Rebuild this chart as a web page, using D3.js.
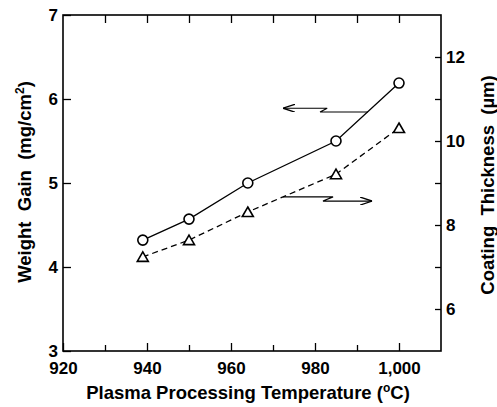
<!DOCTYPE html>
<html>
<head>
<meta charset="utf-8">
<script src="https://cdn.jsdelivr.net/npm/d3@7"></script>
<style>
  body { margin: 0; background: #fff; }
  svg { display: block; font-family: "Liberation Sans", Arial, sans-serif; }
  .tick text { font-size: 17px; font-weight: bold; fill: #000; }
  .title { font-size: 18.5px; font-weight: bold; fill: #000; }
</style>
</head>
<body>
<svg id="chart"></svg>
<script>
const width = 497;
const height = 407;

// temperatures (°C)
const temps = [939, 950, 964, 985, 1000];
// weight gain, mg/cm2 (left axis, circles)
const weightGain = [4.32, 4.57, 5.0, 5.5, 6.19];
// coating thickness, µm (right axis, triangles)
const thickness = [7.24, 7.64, 8.31, 9.21, 10.31];

const xTickLabels = [920, 940, 960, 980, 1000];
const xMinorTicks = [930, 950, 970, 990];
const leftTicks = [3, 4, 5, 6, 7];
const rightTickLabels = [6, 8, 10, 12];
const rightMinorTicks = [7, 9, 11];

// arrow annotations in data units: [temp, value]
const arrowLeft = [[992.6, 5.845], [981.2, 5.845], [982.9, 5.89], [972.4, 5.89]];
const arrowRight = [[972.4, 8.67], [984.3, 8.67], [981.9, 8.57], [993.6, 8.57]];

const m = { top: 15, right: 56, bottom: 56, left: 63 };
const x = d3.scaleLinear().domain([920, 1010]).range([m.left, width - m.right]);
const yL = d3.scaleLinear().domain([3, 7]).range([height - m.bottom, m.top]);
const yR = d3.scaleLinear().domain([5, 13]).range([height - m.bottom, m.top]);

const svg = d3.select('#chart')
    .attr('width', width)
    .attr('height', height);

const defs = svg.append('defs');
defs.append('marker')
    .attr('id', 'head')
    .attr('viewBox', '0 0 12 8')
    .attr('refX', 12).attr('refY', 4)
    .attr('markerWidth', 12).attr('markerHeight', 8)
    .attr('markerUnits', 'userSpaceOnUse')
    .attr('orient', 'auto')
    .append('path')
    .attr('d', 'M0,0 L12,4 L0,8')
    .attr('fill', 'none')
    .attr('stroke', '#000')
    .attr('stroke-width', 1.3);

const bottom = height - m.bottom;
const right = width - m.right;

// bottom axis
svg.append('g')
    .attr('transform', `translate(0,${bottom})`)
    .call(d3.axisBottom(x).tickValues(xTickLabels).tickSizeInner(-8).tickSizeOuter(0).tickPadding(11));
svg.append('g')
    .attr('transform', `translate(0,${bottom})`)
    .call(d3.axisBottom(x).tickValues(xMinorTicks).tickSizeInner(-6).tickSizeOuter(0).tickFormat(''));
// top axis
svg.append('g')
    .attr('transform', `translate(0,${m.top})`)
    .call(d3.axisTop(x).tickValues(xTickLabels.concat(xMinorTicks).filter(d => d > 920)).tickSizeInner(-8).tickSizeOuter(0).tickFormat(''));
// left axis
svg.append('g')
    .attr('transform', `translate(${m.left},0)`)
    .call(d3.axisLeft(yL).tickValues(leftTicks).tickFormat(d3.format('d')).tickSizeInner(-8).tickSizeOuter(0).tickPadding(5));
// right axis
svg.append('g')
    .attr('transform', `translate(${right},0)`)
    .call(d3.axisRight(yR).tickValues(rightTickLabels).tickFormat(d3.format('d')).tickSizeInner(-6).tickSizeOuter(0).tickPadding(5));
svg.append('g')
    .attr('transform', `translate(${right},0)`)
    .call(d3.axisRight(yR).tickValues(rightMinorTicks).tickSizeInner(-6).tickSizeOuter(0).tickFormat(''));

svg.selectAll('.domain').remove();
svg.selectAll('.tick line').attr('stroke', '#000').attr('stroke-width', 1.3);

// frame
svg.append('rect')
    .attr('x', m.left).attr('y', m.top)
    .attr('width', right - m.left).attr('height', bottom - m.top)
    .attr('fill', 'none').attr('stroke', '#000').attr('stroke-width', 1.6);

// lines
const wData = temps.map((t, i) => [t, weightGain[i]]);
const tData = temps.map((t, i) => [t, thickness[i]]);

svg.append('path')
    .datum(wData)
    .attr('fill', 'none').attr('stroke', '#000').attr('stroke-width', 1.3)
    .attr('d', d3.line().x(d => x(d[0])).y(d => yL(d[1])));
svg.append('path')
    .datum(tData)
    .attr('fill', 'none').attr('stroke', '#000').attr('stroke-width', 1.3)
    .attr('stroke-dasharray', '6,4')
    .attr('d', d3.line().x(d => x(d[0])).y(d => yR(d[1])));

// markers
svg.selectAll('.circ')
    .data(wData)
    .enter().append('circle')
    .attr('cx', d => x(d[0])).attr('cy', d => yL(d[1]))
    .attr('r', 5)
    .attr('fill', '#fff').attr('stroke', '#000').attr('stroke-width', 1.6);
svg.selectAll('.tri')
    .data(tData)
    .enter().append('path')
    .attr('transform', d => `translate(${x(d[0])},${yR(d[1])})`)
    .attr('d', 'M0,-5 L5.5,4.5 L-5.5,4.5 Z')
    .attr('fill', '#fff').attr('stroke', '#000').attr('stroke-width', 1.6);

// arrows
const arrowLine = (ys) => d3.line().x(d => x(d[0])).y(d => ys(d[1]));
svg.append('path')
    .datum(arrowLeft)
    .attr('fill', 'none').attr('stroke', '#000').attr('stroke-width', 1.2)
    .attr('marker-end', 'url(#head)')
    .attr('d', arrowLine(yL));
svg.append('path')
    .datum(arrowRight)
    .attr('fill', 'none').attr('stroke', '#000').attr('stroke-width', 1.2)
    .attr('marker-end', 'url(#head)')
    .attr('d', arrowLine(yR));

// titles
const xt = svg.append('text')
    .attr('class', 'title')
    .attr('x', 248)
    .attr('y', 399)
    .attr('text-anchor', 'middle')
    .text('Plasma Processing Temperature (');
xt.append('tspan').attr('dy', -7).attr('font-size', '12px').text('o');
xt.append('tspan').attr('dy', 7).text('C)');

const yt = svg.append('text')
    .attr('class', 'title')
    .attr('transform', `translate(31,182) rotate(-90)`)
    .attr('text-anchor', 'middle')
    .attr('xml:space', 'preserve')
    .text('Weight  Gain  (mg/cm');
yt.append('tspan').attr('dy', -7).attr('font-size', '12px').text('2');
yt.append('tspan').attr('dy', 7).text(')');

svg.append('text')
    .attr('class', 'title')
    .attr('transform', `translate(494,185) rotate(-90)`)
    .attr('text-anchor', 'middle')
    .attr('xml:space', 'preserve')
    .text('Coating  Thickness  (µm)');
</script>
</body>
</html>
